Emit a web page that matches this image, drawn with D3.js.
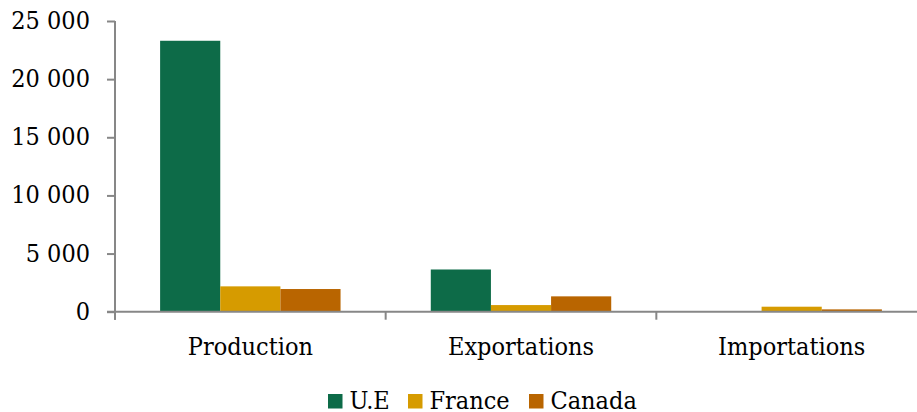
<!DOCTYPE html>
<html><head><meta charset="utf-8">
<script src="https://cdn.jsdelivr.net/npm/d3@7"></script>
<style>body{margin:0;background:#fff}svg{display:block}text{font-family:"DejaVu Serif Condensed","DejaVu Serif",serif;font-stretch:condensed;fill:#000}</style>
</head><body>
<svg id="c" width="917" height="412"></svg>
<script>
const categories = ["Production", "Exportations", "Importations"];
const seriesNames = ["U.E", "France", "Canada"];
const ueValues = [23300, 3630, 0];
const franceValues = [2180, 570, 430];
const canadaValues = [1950, 1320, 200];
const yTicks = [0, 5000, 10000, 15000, 20000, 25000];
const colors = ["#0d6b48", "#d69b00", "#b96500"];

(function () {
const values = [ueValues, franceValues, canadaValues];
const svg = d3.select("#c");
const FONT = '"DejaVu Serif Condensed", "DejaVu Serif", serif';
const FS = "25px";
const mLeft = 115, mTop = 21, mBottom = 311.7, mRight = 927;
const x = d3.scaleBand().domain(categories).range([mLeft, mRight]).padding(0);
const y = d3.scaleLinear().domain([0, 25000]).range([mBottom, mTop]);
const inner = d3.scaleBand().domain(seriesNames).range([0, x.bandwidth()]).paddingInner(0).paddingOuter(0.75);

const fmt = v => v === 0 ? "0" : d3.format(",")(v).replace(/,/g, " ");

// bars
seriesNames.forEach((s, si) => {
  svg.append("g").selectAll("rect").data(categories).join("rect")
    .attr("x", c => x(c) + inner(s))
    .attr("width", inner.bandwidth())
    .attr("y", (c, i) => y(values[si][i]))
    .attr("height", (c, i) => mBottom - y(values[si][i]))
    .attr("fill", colors[si]);
});

// y axis
const ya = svg.append("g").attr("transform", `translate(${mLeft},0)`)
  .call(d3.axisLeft(y).tickValues(yTicks).tickFormat(fmt).tickSize(8).tickPadding(17));
ya.select(".domain").attr("stroke", "#878787").attr("stroke-width", 2).attr("d", `M0,${mTop}V${mBottom+8}`);
ya.selectAll(".tick line").attr("stroke", "#878787").attr("stroke-width", 2);
ya.selectAll(".tick text").style("font-family", FONT).style("font-stretch", "condensed").style("font-size", FS).attr("fill", "#000").attr("dy", "0.3em");

// x axis
const xa = svg.append("g").attr("transform", `translate(0,${mBottom})`)
  .call(d3.axisBottom(x).tickSize(0));
xa.select(".domain").attr("stroke", "#878787").attr("stroke-width", 2).attr("d", `M${mLeft-8},0H${mRight}`);
xa.selectAll(".tick text").style("font-family", FONT).style("font-stretch", "condensed").style("font-size", FS).attr("fill", "#000").attr("y", 43).attr("dy", 0);
const boundaries = categories.map(c => x(c));
svg.append("g").selectAll("line").data(boundaries).join("line")
  .attr("x1", d => d).attr("x2", d => d).attr("y1", mBottom).attr("y2", mBottom + 8)
  .attr("stroke", "#878787").attr("stroke-width", 2);

// legend
const legX = [328, 408, 529];
const lg = svg.append("g");
seriesNames.forEach((s, i) => {
  lg.append("rect").attr("x", legX[i]).attr("y", 394).attr("width", 14.5).attr("height", 14.5).attr("fill", colors[i]);
  lg.append("text").attr("x", legX[i] + 21.5).attr("y", 409).style("font-family", FONT).style("font-size", FS).text(s);
});
})();
</script>
</body></html>
